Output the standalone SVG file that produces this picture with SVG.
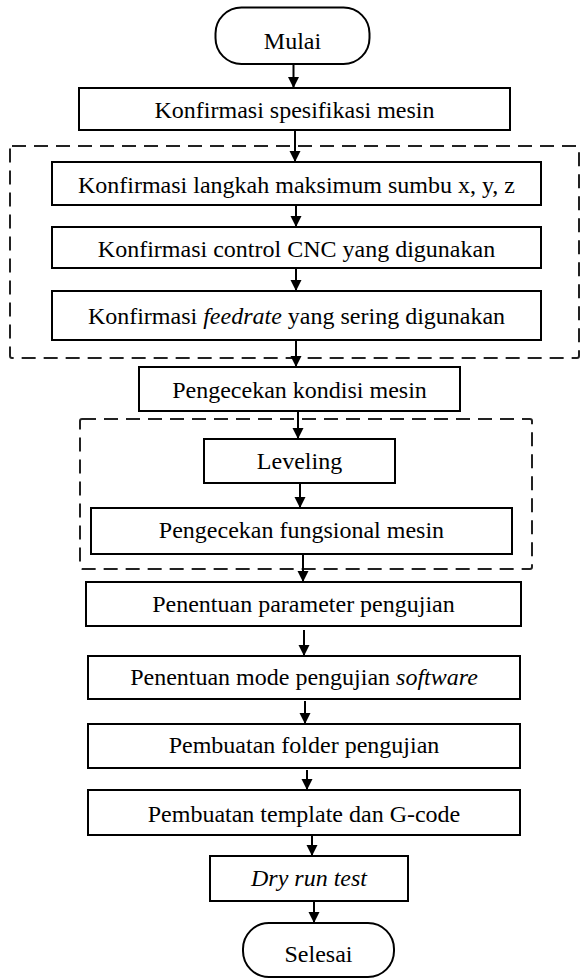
<svg xmlns="http://www.w3.org/2000/svg" width="581" height="979" viewBox="0 0 581 979">
<style>
.b{fill:#fff;stroke:#000;stroke-width:2}
.d{fill:none;stroke:#222;stroke-width:2;stroke-dasharray:14 8}
.t{font-family:"Liberation Serif","Times New Roman",serif;font-size:24px;fill:#000;text-anchor:middle}
.c line{stroke:#000;stroke-width:2}
</style>
<defs>
<marker id="ah" markerUnits="userSpaceOnUse" markerWidth="12" markerHeight="12" refX="11" refY="6" orient="auto">
<path d="M0,0.5 L11,6 L0,11.5 z" fill="#000"/>
</marker>
</defs>
<rect x="0" y="0" width="581" height="979" fill="#fff"/>
<g id="group1"><rect class="d" x="10" y="146" width="569" height="212" rx="2"/></g>
<g id="group2"><rect class="d" x="80" y="419" width="452" height="150" rx="2"/></g>
<g class="c" id="connectors">
<line x1="293.5" y1="64" x2="293.5" y2="88" marker-end="url(#ah)"/>
<line x1="295" y1="130" x2="295" y2="162" marker-end="url(#ah)"/>
<line x1="296" y1="205" x2="296" y2="227" marker-end="url(#ah)"/>
<line x1="296" y1="268" x2="296" y2="291" marker-end="url(#ah)"/>
<line x1="296" y1="340" x2="296" y2="367" marker-end="url(#ah)"/>
<line x1="298" y1="411" x2="298" y2="439" marker-end="url(#ah)"/>
<line x1="300" y1="483" x2="300" y2="508" marker-end="url(#ah)"/>
<line x1="303" y1="554" x2="303" y2="582" marker-end="url(#ah)"/>
<line x1="304" y1="630" x2="304" y2="656" marker-end="url(#ah)"/>
<line x1="305" y1="701" x2="305" y2="724" marker-end="url(#ah)"/>
<line x1="307" y1="770" x2="307" y2="790" marker-end="url(#ah)"/>
<line x1="312" y1="835" x2="312" y2="856" marker-end="url(#ah)"/>
<line x1="314" y1="901" x2="314" y2="923" marker-end="url(#ah)"/>
</g>
<g id="mulai"><rect class="b" x="215.5" y="7.5" width="154" height="56.5" rx="26"/><text class="t" x="292.5" y="49">Mulai</text></g>
<g id="n1"><rect class="b" x="79" y="88" width="431" height="42"/><text class="t" x="294.5" y="118">Konfirmasi spesifikasi mesin</text></g>
<g id="n2"><rect class="b" x="52" y="162" width="489" height="43"/><text class="t" x="296.5" y="193">Konfirmasi langkah maksimum sumbu x, y, z</text></g>
<g id="n3"><rect class="b" x="52" y="227" width="489" height="41"/><text class="t" x="296.5" y="257">Konfirmasi control CNC yang digunakan</text></g>
<g id="n4"><rect class="b" x="52" y="291" width="489" height="49"/><text class="t" x="296.5" y="324">Konfirmasi <tspan font-style="italic">feedrate</tspan> yang sering digunakan</text></g>
<g id="n5"><rect class="b" x="139" y="367" width="321" height="44"/><text class="t" x="299.5" y="398">Pengecekan kondisi mesin</text></g>
<g id="n6"><rect class="b" x="204" y="439" width="191" height="44"/><text class="t" x="299.5" y="469">Leveling</text></g>
<g id="n7"><rect class="b" x="91" y="508" width="421" height="46"/><text class="t" x="301.5" y="538">Pengecekan fungsional mesin</text></g>
<g id="n8"><rect class="b" x="86" y="582" width="435" height="44"/><text class="t" x="303.5" y="612">Penentuan parameter pengujian</text></g>
<g id="n9"><rect class="b" x="88" y="656" width="432" height="43"/><text class="t" x="304" y="685">Penentuan mode pengujian <tspan font-style="italic">software</tspan></text></g>
<g id="n10"><rect class="b" x="88" y="724" width="432" height="44"/><text class="t" x="304" y="753">Pembuatan folder pengujian</text></g>
<g id="n11"><rect class="b" x="88" y="790" width="432" height="45"/><text class="t" x="304" y="822">Pembuatan template dan G-code</text></g>
<g id="n12"><rect class="b" x="210" y="856" width="198" height="45"/><text class="t" x="309" y="886" font-style="italic">Dry run test</text></g>
<g id="selesai"><rect class="b" x="243" y="923" width="151" height="54" rx="26"/><text class="t" x="318.5" y="962">Selesai</text></g>
</svg>
